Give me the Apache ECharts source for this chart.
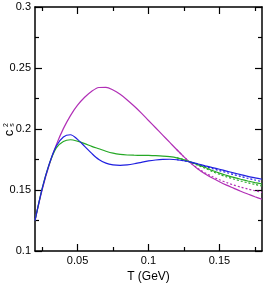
<!DOCTYPE html>
<html>
<head>
<meta charset="utf-8">
<script src="https://cdn.jsdelivr.net/npm/echarts@6/dist/echarts.min.js"></script>
<style>
html,body{margin:0;padding:0;background:#fff;}
#chart{width:276px;height:292px;}
</style>
</head>
<body>
<div id="chart"></div>
<script>
// Temperature grid (GeV)
var T = [0.02,0.025,0.03,0.035,0.04,0.045,0.05,0.055,0.06,0.065,0.07,0.075,0.08,0.085,0.09,0.095,0.1,0.105,0.11,0.115,0.12,0.125,0.13,0.135,0.14,0.145,0.15,0.155,0.16,0.165,0.17,0.175,0.18];

// Speed of sound squared, solid curves
var magentaSolid = [0.125,0.150,0.1705,0.1870,0.2003,0.2110,0.2195,0.2260,0.2310,0.2340,0.2342,0.2320,0.2284,0.2238,0.2186,0.2130,0.2070,0.2010,0.1950,0.1890,0.1830,0.1772,0.1718,0.1670,0.1632,0.1598,0.1568,0.1540,0.1515,0.1490,0.1467,0.1445,0.1424];
var blueSolid    = [0.125,0.151,0.1712,0.1860,0.1935,0.1953,0.1915,0.1858,0.1800,0.1750,0.1720,0.1706,0.1702,0.1706,0.1715,0.1727,0.1738,0.1746,0.1751,0.1752,0.1748,0.1740,0.1728,0.1713,0.1698,0.1684,0.1670,0.1655,0.1640,0.1626,0.1612,0.1600,0.1588];
var greenSolid   = [0.125,0.151,0.1710,0.1845,0.1898,0.1912,0.1900,0.1880,0.1858,0.1838,0.1818,0.1802,0.1792,0.1787,0.1785,0.1784,0.1783,0.1781,0.1778,0.1773,0.1764,0.1748,0.1728,0.1706,0.1684,0.1660,0.1638,0.1620,0.1603,0.1588,0.1574,0.1561,0.1549];

// Dashed curves (diverge above ~0.13 GeV)
var Tdash = [0.12,0.125,0.13,0.135,0.14,0.145,0.15,0.155,0.16,0.165,0.17,0.175,0.18];
var magentaDash = [0.1830,0.1772,0.1720,0.1675,0.1640,0.1610,0.1584,0.1561,0.1541,0.1524,0.1508,0.1494,0.1481];
var blueDash    = [0.1748,0.1740,0.1726,0.1709,0.1692,0.1675,0.1659,0.1643,0.1627,0.1611,0.1596,0.1582,0.1568];
var greenDash   = [0.1764,0.1748,0.1726,0.1702,0.1678,0.1652,0.1628,0.1608,0.1590,0.1574,0.1559,0.1546,0.1533];

// Axis ticks
var xMajor = [0.05,0.1,0.15];
var xMinor = [0.025,0.075,0.125,0.175];
var yMajor = [0.1,0.15,0.2,0.25,0.3];
var yMinor = [0.125,0.175,0.225,0.275];

var FONT = "'Liberation Sans', Arial, sans-serif";
function pairs(xs, ys){ return xs.map(function(x,i){ return [x, ys[i]]; }); }
function fmt(v){ return String(+(+v).toFixed(3)); }

function xAxis(pos, ticks, len, labels, line){
  return {
    type:'value', position:pos, min:0.02, max:0.18,
    axisLine:{show:line, onZero:false, lineStyle:{color:'#000', width:1.5}},
    axisTick:{show:true, inside:true, length:len, customValues:ticks, lineStyle:{color:'#000', width:1.2}},
    axisLabel:{show:labels, customValues:ticks, formatter:fmt, margin:4, color:'#000', fontSize:11, fontFamily:FONT},
    splitLine:{show:false}
  };
}
function yAxis(pos, ticks, len, labels, line){
  return {
    type:'value', position:pos, min:0.1, max:0.3,
    axisLine:{show:line, onZero:false, lineStyle:{color:'#000', width:1.5}},
    axisTick:{show:true, inside:true, length:len, customValues:ticks, lineStyle:{color:'#000', width:1.2}},
    axisLabel:{show:labels, customValues:ticks, formatter:fmt, margin:4, color:'#000', fontSize:11, fontFamily:FONT},
    splitLine:{show:false}
  };
}

var xA = [xAxis('bottom', xMajor, 7, true, true), xAxis('bottom', xMinor, 4, false, false),
          xAxis('top', xMajor, 7, false, true), xAxis('top', xMinor, 4, false, false)];
xA[0].name = 'T (GeV)';
xA[0].nameLocation = 'middle';
xA[0].nameGap = 20;
xA[0].nameTextStyle = {color:'#000', fontSize:12, fontFamily:FONT};

var yA = [yAxis('left', yMajor, 7, true, true), yAxis('left', yMinor, 4, false, false),
          yAxis('right', yMajor, 7, false, true), yAxis('right', yMinor, 4, false, false)];

function line(data, color, dashed, z){
  return {
    type:'line', xAxisIndex:0, yAxisIndex:0, data:data, smooth:0.3,
    symbol:'none', z:z, silent:true,
    lineStyle:{color:color, width:1.2, type: dashed ? [2,2] : 'solid'}
  };
}

var MAG = '#b12fb6', BLU = '#1f1fe0', GRN = '#25a825';

var chart = echarts.init(document.getElementById('chart'), null, {renderer:'canvas'});
chart.setOption({
  animation:false,
  backgroundColor:'#fff',
  grid:{left:35, right:14, top:7, bottom:41, containLabel:false},
  xAxis:xA,
  yAxis:yA,
  series:[
    line(pairs(Tdash, magentaDash), MAG, true, 2),
    line(pairs(Tdash, greenDash), GRN, true, 2),
    line(pairs(Tdash, blueDash), BLU, true, 2),
    line(pairs(T, magentaSolid), MAG, false, 3),
    line(pairs(T, greenSolid), GRN, false, 3),
    line(pairs(T, blueSolid), BLU, false, 3)
  ],
  graphic:[{
    type:'group', x:9, y:130, rotation:Math.PI/2,
    children:[
      {type:'text', x:-3, y:0, style:{text:'c', fontSize:13, fontFamily:FONT, fill:'#000', align:'center', verticalAlign:'middle'}},
      {type:'text', x:5, y:-2.5, style:{text:'2', fontSize:7, fontFamily:FONT, fill:'#000', align:'center', verticalAlign:'middle'}},
      {type:'text', x:5, y:3, style:{text:'s', fontSize:7, fontFamily:FONT, fill:'#000', align:'center', verticalAlign:'middle'}}
    ]
  }]
});
</script>
</body>
</html>
